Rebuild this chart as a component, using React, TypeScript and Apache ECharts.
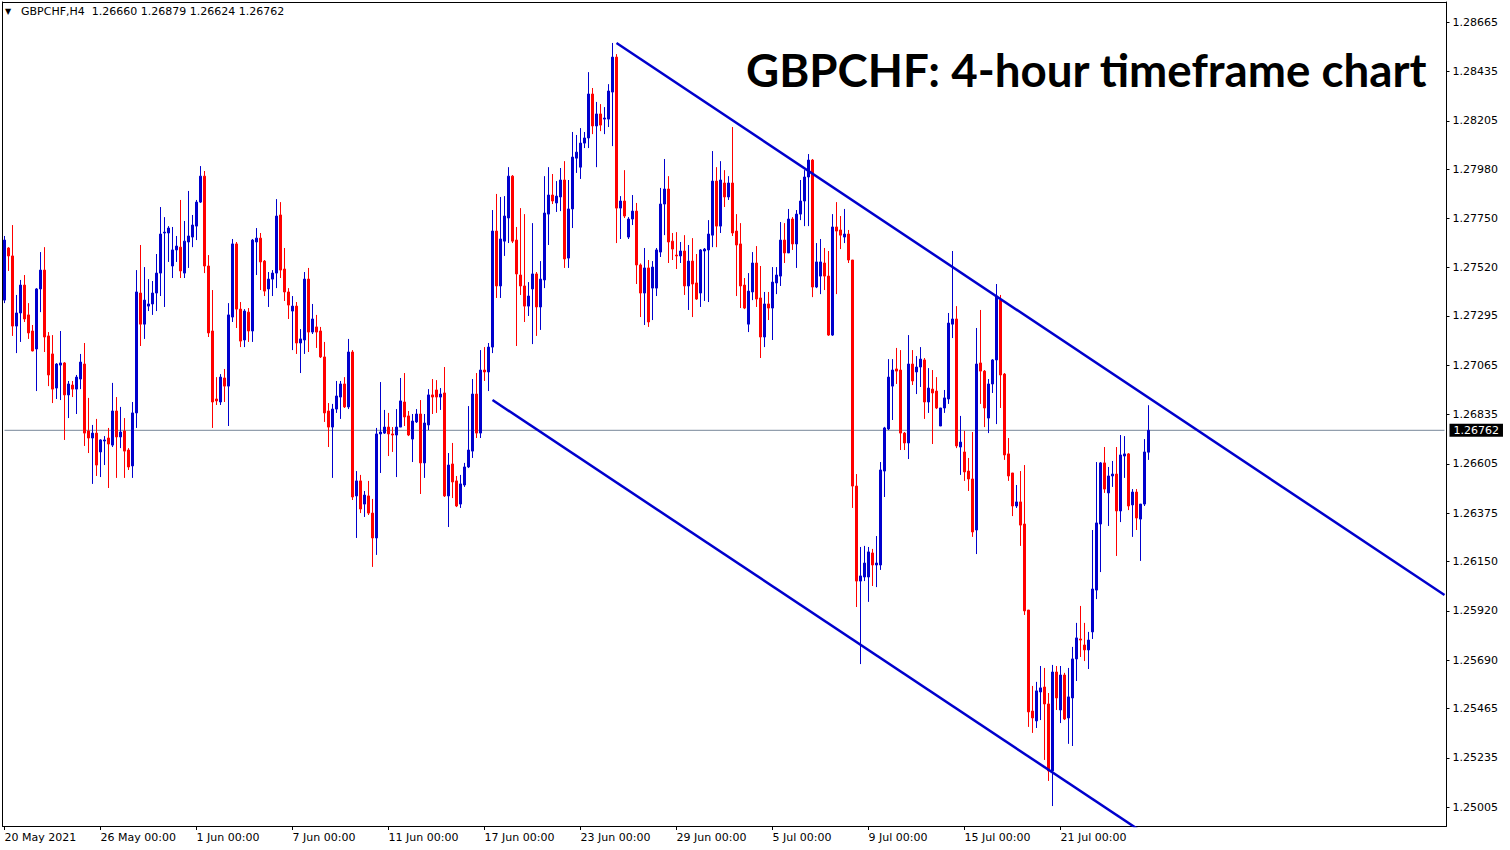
import React, { useEffect, useRef } from "react";
import * as echarts from "echarts";

const symbolName = "GBPCHF";
const timeframe = "H4";
const titleText = "GBPCHF: 4-hour timeframe chart";

// each candle: [open, close, low, high]
const candles: number[][] = [
  [1.27369, 1.27649, 1.27355, 1.27668], [1.27612, 1.27575, 1.27505, 1.27616], [1.27575, 1.27248, 1.27202, 1.27719], [1.27248, 1.27309, 1.27122, 1.27393],
  [1.27309, 1.27439, 1.27174, 1.27463], [1.27439, 1.27281, 1.27267, 1.27486], [1.27300, 1.27216, 1.27188, 1.27355], [1.27225, 1.27132, 1.27130, 1.27253],
  [1.27141, 1.27421, 1.26945, 1.27425], [1.27421, 1.27509, 1.27313, 1.27593], [1.27509, 1.27197, 1.27127, 1.27616], [1.27202, 1.27020, 1.26968, 1.27220],
  [1.27118, 1.26954, 1.26889, 1.27206], [1.26959, 1.27071, 1.26908, 1.27075], [1.27066, 1.27076, 1.26903, 1.27225], [1.27076, 1.26927, 1.26717, 1.27080],
  [1.26927, 1.26978, 1.26819, 1.26992], [1.26973, 1.26954, 1.26917, 1.26992], [1.26954, 1.27010, 1.26838, 1.27020], [1.27001, 1.27080, 1.26954, 1.27118],
  [1.27071, 1.26749, 1.26689, 1.27169], [1.26759, 1.26726, 1.26656, 1.26913], [1.26726, 1.26749, 1.26512, 1.26787], [1.26749, 1.26600, 1.26549, 1.26815],
  [1.26661, 1.26717, 1.26544, 1.26720], [1.26712, 1.26717, 1.26600, 1.26735], [1.26726, 1.26698, 1.26493, 1.26773], [1.26693, 1.26852, 1.26684, 1.26983],
  [1.26852, 1.26731, 1.26540, 1.26917], [1.26731, 1.26754, 1.26679, 1.26871], [1.26759, 1.26665, 1.26540, 1.26819], [1.26670, 1.26591, 1.26577, 1.26679],
  [1.26596, 1.26843, 1.26540, 1.26894], [1.26843, 1.27407, 1.26773, 1.27509], [1.27402, 1.27257, 1.27155, 1.27626], [1.27257, 1.27369, 1.27188, 1.27523],
  [1.27341, 1.27351, 1.27318, 1.27467], [1.27351, 1.27402, 1.27300, 1.27458], [1.27402, 1.27495, 1.27318, 1.27584], [1.27495, 1.27677, 1.27388, 1.27803],
  [1.27682, 1.27686, 1.27337, 1.27756], [1.27682, 1.27705, 1.27547, 1.27714], [1.27528, 1.27603, 1.27472, 1.27710], [1.27603, 1.27621, 1.27547, 1.27668],
  [1.27616, 1.27505, 1.27472, 1.27836], [1.27495, 1.27644, 1.27472, 1.27738], [1.27640, 1.27668, 1.27519, 1.27878], [1.27663, 1.27719, 1.27616, 1.27766],
  [1.27714, 1.27826, 1.27649, 1.27836], [1.27826, 1.27947, 1.27822, 1.27994], [1.27947, 1.27528, 1.27495, 1.27971], [1.27528, 1.27216, 1.27197, 1.27579],
  [1.27225, 1.26894, 1.26773, 1.27416], [1.26908, 1.26899, 1.26880, 1.27010], [1.26894, 1.27010, 1.26880, 1.27024], [1.27006, 1.26968, 1.26894, 1.27048],
  [1.26968, 1.27300, 1.26782, 1.27355], [1.27290, 1.27631, 1.27267, 1.27654], [1.27631, 1.27327, 1.27239, 1.27640], [1.27327, 1.27178, 1.27150, 1.27360],
  [1.27183, 1.27318, 1.27150, 1.27327], [1.27313, 1.27225, 1.27174, 1.27332], [1.27225, 1.27649, 1.27174, 1.27654], [1.27640, 1.27658, 1.27486, 1.27705],
  [1.27658, 1.27547, 1.27416, 1.27682], [1.27551, 1.27411, 1.27388, 1.27556], [1.27421, 1.27467, 1.27337, 1.27500], [1.27467, 1.27495, 1.27388, 1.27509],
  [1.27495, 1.27761, 1.27425, 1.27840], [1.27766, 1.27509, 1.27472, 1.27826], [1.27514, 1.27407, 1.27365, 1.27612], [1.27407, 1.27346, 1.27281, 1.27425],
  [1.27318, 1.27341, 1.27136, 1.27388], [1.27341, 1.27169, 1.27118, 1.27360], [1.27169, 1.27188, 1.27029, 1.27234], [1.27183, 1.27467, 1.27118, 1.27500],
  [1.27467, 1.27220, 1.27127, 1.27519], [1.27220, 1.27281, 1.27211, 1.27351], [1.27244, 1.27220, 1.27146, 1.27300], [1.27225, 1.27104, 1.27099, 1.27244],
  [1.27104, 1.26843, 1.26801, 1.27174], [1.26852, 1.26777, 1.26684, 1.26889], [1.26777, 1.26861, 1.26540, 1.26885], [1.26861, 1.26922, 1.26843, 1.26992],
  [1.26917, 1.26978, 1.26815, 1.26992], [1.26978, 1.26871, 1.26866, 1.27010], [1.26871, 1.27127, 1.26861, 1.27188], [1.27127, 1.26451, 1.26437, 1.27136],
  [1.26456, 1.26526, 1.26260, 1.26572], [1.26526, 1.26395, 1.26376, 1.26554], [1.26418, 1.26460, 1.26358, 1.26479], [1.26456, 1.26376, 1.26367, 1.26526],
  [1.26376, 1.26260, 1.26125, 1.26442], [1.26260, 1.26745, 1.26181, 1.26773], [1.26745, 1.26754, 1.26563, 1.26987], [1.26749, 1.26777, 1.26745, 1.26857],
  [1.26777, 1.26745, 1.26642, 1.26843], [1.26745, 1.26740, 1.26661, 1.26777], [1.26740, 1.26777, 1.26544, 1.26861], [1.26777, 1.26899, 1.26777, 1.27006],
  [1.26894, 1.26824, 1.26782, 1.27029], [1.26829, 1.26740, 1.26735, 1.26852], [1.26721, 1.26805, 1.26614, 1.26838], [1.26801, 1.26838, 1.26796, 1.26861],
  [1.26838, 1.26610, 1.26465, 1.26903], [1.26610, 1.26796, 1.26540, 1.26838], [1.26787, 1.26927, 1.26763, 1.26954], [1.26927, 1.26917, 1.26838, 1.27001],
  [1.26950, 1.26917, 1.26843, 1.26996], [1.26917, 1.26931, 1.26857, 1.26959], [1.26936, 1.26456, 1.26451, 1.27057], [1.26456, 1.26600, 1.26311, 1.26656],
  [1.26605, 1.26521, 1.26446, 1.26703], [1.26526, 1.26409, 1.26404, 1.26549], [1.26418, 1.26512, 1.26400, 1.26554], [1.26507, 1.26591, 1.26498, 1.26610],
  [1.26591, 1.26670, 1.26586, 1.26875], [1.26665, 1.26931, 1.26633, 1.27001], [1.26931, 1.26749, 1.26726, 1.27029], [1.26749, 1.27043, 1.26726, 1.27136],
  [1.27043, 1.27034, 1.26992, 1.27150], [1.27034, 1.27150, 1.26945, 1.27169], [1.27150, 1.27691, 1.27122, 1.27789], [1.27691, 1.27435, 1.27379, 1.27864],
  [1.27435, 1.27654, 1.27379, 1.27850], [1.27644, 1.27761, 1.27575, 1.27854], [1.27752, 1.27947, 1.27635, 1.27989], [1.27947, 1.27644, 1.27635, 1.27952],
  [1.27649, 1.27491, 1.27155, 1.27710], [1.27486, 1.27435, 1.27393, 1.27798], [1.27435, 1.27341, 1.27267, 1.27770], [1.27341, 1.27388, 1.27295, 1.27453],
  [1.27421, 1.27491, 1.27164, 1.27728], [1.27491, 1.27337, 1.27202, 1.27500], [1.27337, 1.27467, 1.27230, 1.27551], [1.27463, 1.27775, 1.27425, 1.27947],
  [1.27770, 1.27859, 1.27626, 1.27989], [1.27859, 1.27831, 1.27817, 1.27957], [1.27822, 1.27854, 1.27780, 1.27924], [1.27850, 1.27929, 1.27784, 1.27985],
  [1.27929, 1.27561, 1.27519, 1.28017], [1.27565, 1.27794, 1.27519, 1.27929], [1.27794, 1.28036, 1.27705, 1.28153], [1.28031, 1.28059, 1.27962, 1.28139],
  [1.27989, 1.28101, 1.27934, 1.28171], [1.28101, 1.28125, 1.28078, 1.28153], [1.28125, 1.28330, 1.28078, 1.28432], [1.28330, 1.28181, 1.28143, 1.28358],
  [1.28181, 1.28237, 1.27989, 1.28293], [1.28237, 1.28185, 1.28157, 1.28283], [1.28213, 1.28218, 1.28143, 1.28269], [1.28213, 1.28344, 1.28176, 1.28376],
  [1.28339, 1.28502, 1.28087, 1.28568], [1.28502, 1.27798, 1.27635, 1.28516], [1.27798, 1.27831, 1.27654, 1.27854], [1.27831, 1.27761, 1.27752, 1.27975],
  [1.27663, 1.27747, 1.27654, 1.27756], [1.27747, 1.27784, 1.27719, 1.27859], [1.27784, 1.27533, 1.27444, 1.27822], [1.27533, 1.27402, 1.27290, 1.27540],
  [1.27402, 1.27519, 1.27253, 1.27612], [1.27519, 1.27267, 1.27244, 1.27556], [1.27425, 1.27523, 1.27276, 1.27551], [1.27425, 1.27603, 1.27388, 1.27612],
  [1.27593, 1.27817, 1.27570, 1.27892], [1.27817, 1.27887, 1.27672, 1.28027], [1.27887, 1.27640, 1.27542, 1.27947], [1.27644, 1.27607, 1.27556, 1.27682],
  [1.27579, 1.27575, 1.27514, 1.27686], [1.27575, 1.27598, 1.27542, 1.27640], [1.27598, 1.27435, 1.27393, 1.27672], [1.27435, 1.27551, 1.27323, 1.27626],
  [1.27551, 1.27444, 1.27290, 1.27658], [1.27449, 1.27374, 1.27370, 1.27584], [1.27402, 1.27603, 1.27337, 1.27607], [1.27598, 1.27607, 1.27365, 1.27612],
  [1.27603, 1.27677, 1.27360, 1.27742], [1.27672, 1.27924, 1.27616, 1.28064], [1.27924, 1.27714, 1.27616, 1.27989], [1.27714, 1.27929, 1.27682, 1.28017],
  [1.27915, 1.27850, 1.27803, 1.27975], [1.27850, 1.27915, 1.27836, 1.27947], [1.27915, 1.27682, 1.27668, 1.28176], [1.27691, 1.27626, 1.27388, 1.27770],
  [1.27631, 1.27435, 1.27332, 1.27728], [1.27439, 1.27332, 1.27327, 1.27472], [1.27257, 1.27411, 1.27220, 1.27495], [1.27407, 1.27542, 1.27369, 1.27593],
  [1.27542, 1.27374, 1.27337, 1.27621], [1.27379, 1.27197, 1.27099, 1.27528], [1.27197, 1.27351, 1.27150, 1.27407], [1.27351, 1.27332, 1.27276, 1.27407],
  [1.27332, 1.27453, 1.27183, 1.27523], [1.27449, 1.27486, 1.27397, 1.27523], [1.27481, 1.27649, 1.27435, 1.27733], [1.27649, 1.27589, 1.27542, 1.27728],
  [1.27589, 1.27747, 1.27589, 1.27794], [1.27747, 1.27631, 1.27603, 1.27756], [1.27631, 1.27770, 1.27519, 1.27789], [1.27770, 1.27831, 1.27742, 1.27929],
  [1.27831, 1.27943, 1.27714, 1.27975], [1.27943, 1.28022, 1.27714, 1.28050], [1.28022, 1.27430, 1.27383, 1.28027], [1.27430, 1.27547, 1.27425, 1.27635],
  [1.27481, 1.27547, 1.27397, 1.27654], [1.27542, 1.27481, 1.27416, 1.27612], [1.27481, 1.27206, 1.27202, 1.27598], [1.27206, 1.27710, 1.27202, 1.27770],
  [1.27710, 1.27691, 1.27397, 1.27826], [1.27696, 1.27672, 1.27607, 1.27761], [1.27663, 1.27677, 1.27635, 1.27794], [1.27677, 1.27556, 1.27542, 1.27696],
  [1.27556, 1.26502, 1.26400, 1.27556], [1.26502, 1.26059, 1.25938, 1.26558], [1.26059, 1.26083, 1.25672, 1.26218], [1.26078, 1.26143, 1.26059, 1.26223],
  [1.26078, 1.26195, 1.25962, 1.26218], [1.26190, 1.26134, 1.26036, 1.26209], [1.26134, 1.26143, 1.26031, 1.26269], [1.26134, 1.26577, 1.26111, 1.26614],
  [1.26572, 1.26773, 1.26451, 1.26778], [1.26768, 1.27010, 1.26763, 1.27094], [1.26968, 1.27043, 1.26810, 1.27094], [1.27048, 1.27038, 1.26978, 1.27146],
  [1.27043, 1.26749, 1.26670, 1.27136], [1.26749, 1.26703, 1.26670, 1.26754], [1.26703, 1.27071, 1.26628, 1.27206], [1.27071, 1.26992, 1.26973, 1.27136],
  [1.27034, 1.27057, 1.26931, 1.27108], [1.27057, 1.27094, 1.26964, 1.27150], [1.27090, 1.26894, 1.26815, 1.27099], [1.26894, 1.26959, 1.26843, 1.27052],
  [1.26954, 1.26936, 1.26698, 1.27043], [1.26945, 1.26866, 1.26861, 1.27010], [1.26782, 1.26866, 1.26782, 1.26866], [1.26866, 1.26913, 1.26843, 1.26950],
  [1.26908, 1.27262, 1.26885, 1.27309], [1.27257, 1.27281, 1.27192, 1.27598], [1.27281, 1.26689, 1.26679, 1.27341], [1.26684, 1.26707, 1.26554, 1.26829],
  [1.26661, 1.26568, 1.26526, 1.26759], [1.26572, 1.26535, 1.26479, 1.26633], [1.26535, 1.26288, 1.26265, 1.26754], [1.26297, 1.27071, 1.26185, 1.27239],
  [1.27076, 1.27038, 1.26885, 1.27323], [1.27038, 1.26866, 1.26777, 1.27043], [1.26819, 1.26978, 1.26749, 1.27001], [1.26978, 1.27090, 1.26936, 1.27094],
  [1.27090, 1.27388, 1.26791, 1.27444], [1.27369, 1.27020, 1.26866, 1.27393], [1.27024, 1.26647, 1.26624, 1.27029], [1.26652, 1.26549, 1.26526, 1.26726],
  [1.26563, 1.26409, 1.26362, 1.26563], [1.26409, 1.26428, 1.26400, 1.26507], [1.26428, 1.26320, 1.26223, 1.26572], [1.26325, 1.25920, 1.25901, 1.26600],
  [1.25924, 1.25449, 1.25379, 1.25924], [1.25453, 1.25421, 1.25351, 1.25570], [1.25407, 1.25547, 1.25374, 1.25589], [1.25542, 1.25561, 1.25411, 1.25663],
  [1.25565, 1.25486, 1.25225, 1.25654], [1.25486, 1.25174, 1.25127, 1.25537], [1.25174, 1.25635, 1.25010, 1.25668], [1.25635, 1.25514, 1.25458, 1.25663],
  [1.25458, 1.25621, 1.25397, 1.25663], [1.25621, 1.25416, 1.25411, 1.25631], [1.25421, 1.25519, 1.25300, 1.25654], [1.25514, 1.25696, 1.25290, 1.25752],
  [1.25696, 1.25794, 1.25593, 1.25864], [1.25789, 1.25784, 1.25705, 1.25943], [1.25761, 1.25738, 1.25686, 1.25864], [1.25738, 1.25784, 1.25649, 1.25822],
  [1.25822, 1.26022, 1.25789, 1.26297], [1.26017, 1.26330, 1.25975, 1.26614], [1.26325, 1.26610, 1.26101, 1.26614], [1.26610, 1.26488, 1.26470, 1.26684],
  [1.26470, 1.26549, 1.26316, 1.26591], [1.26549, 1.26558, 1.26498, 1.26619], [1.26558, 1.26386, 1.26176, 1.26684], [1.26386, 1.26647, 1.26334, 1.26740],
  [1.26642, 1.26652, 1.26540, 1.26735], [1.26652, 1.26409, 1.26390, 1.26656], [1.26414, 1.26474, 1.26265, 1.26488], [1.26474, 1.26353, 1.26297, 1.26488],
  [1.26348, 1.26418, 1.26153, 1.26418], [1.26418, 1.26661, 1.26409, 1.26721], [1.26660, 1.26762, 1.26624, 1.26879],
];

const yTickValues = [1.28665, 1.28435, 1.28205, 1.2798, 1.2775, 1.2752, 1.27295, 1.27065, 1.26835, 1.26605, 1.26375, 1.2615, 1.2592, 1.2569, 1.25465, 1.25235, 1.25005];
const xTickLabels = ["20 May 2021", "26 May 00:00", "1 Jun 00:00", "7 Jun 00:00", "11 Jun 00:00", "17 Jun 00:00", "23 Jun 00:00", "29 Jun 00:00", "5 Jul 00:00", "9 Jul 00:00", "15 Jul 00:00", "21 Jul 00:00"];
const barsPerTick = 24;
const totalSlots = 361;
const yMin = 1.24917;
const yMax = 1.28759;
const lastPrice = 1.26762;
const upperChannel = [[153, 1.28568], [360, 1.25994]];
const lowerChannel = [[122, 1.26903], [284, 1.24894]];

const months = ["Jan", "Feb", "Mar", "Apr", "May", "Jun", "Jul", "Aug", "Sep", "Oct", "Nov", "Dec"];
function buildCategories(): string[] {
  const out: string[] = [];
  let t = Date.UTC(2021, 4, 20);
  while (out.length < totalSlots) {
    const d = new Date(t);
    const wd = d.getUTCDay();
    if (wd !== 0 && wd !== 6) {
      for (let h = 0; h < 24 && out.length < totalSlots; h += 4) {
        out.push(`${d.getUTCDate()} ${months[d.getUTCMonth()]} ${String(h).padStart(2, "0")}:00`);
      }
    }
    t += 86400000;
  }
  return out;
}

const FONT = "DejaVu Sans";
const BLUE = "#0000CD";
const RED = "#FF0000";

export default function App() {
  const ref = useRef<HTMLDivElement>(null);
  useEffect(() => {
    if (!ref.current) return;
    const chart = echarts.init(ref.current, undefined, { renderer: "svg" });
    const categories = buildCategories();
    const last = candles[candles.length - 1];
    const header = `${symbolName},${timeframe}  ${last[0].toFixed(5)} ${last[3].toFixed(5)} ${last[2].toFixed(5)} ${last[1].toFixed(5)}`;
    const showTick = (index: number) => index % barsPerTick === 0 && index / barsPerTick < xTickLabels.length;
    const frameLine = { show: true, lineStyle: { color: "#000", width: 1 } };
    chart.setOption({
      animation: false,
      backgroundColor: "#ffffff",
      grid: { left: 2.5, top: 2, width: 1444, height: 824, show: false },
      xAxis: [
        {
          type: "category",
          data: categories,
          boundaryGap: true,
          position: "bottom",
          axisLine: frameLine,
          axisTick: { show: true, alignWithLabel: true, interval: (i: number) => showTick(i), length: 4, lineStyle: { color: "#000" } },
          axisLabel: {
            show: true,
            interval: (i: number) => showTick(i),
            formatter: (_v: string, i: number) => (showTick(i) ? xTickLabels[i / barsPerTick] : ""),
            align: "left",
            margin: 6,
            fontFamily: FONT,
            fontSize: 11,
            color: "#000",
          },
          splitLine: { show: false },
        },
        {
          type: "category",
          data: categories,
          boundaryGap: true,
          position: "top",
          axisLine: frameLine,
          axisTick: { show: false },
          axisLabel: { show: false },
          splitLine: { show: false },
        },
      ],
      yAxis: [
        {
          type: "value",
          position: "right",
          min: yMin,
          max: yMax,
          scale: true,
          axisLine: frameLine,
          axisTick: { show: true, length: 3, customValues: yTickValues, lineStyle: { color: "#000" } },
          axisLabel: {
            show: true,
            customValues: yTickValues,
            formatter: (v: number) => v.toFixed(5),
            margin: 6,
            fontFamily: FONT,
            fontSize: 11,
            color: "#000",
          },
          splitLine: { show: false },
        },
        {
          type: "value",
          position: "left",
          min: yMin,
          max: yMax,
          scale: true,
          axisLine: frameLine,
          axisTick: { show: false },
          axisLabel: { show: false },
          splitLine: { show: false },
        },
      ],
      graphic: [
        { type: "text", left: 5, top: 7, style: { text: "▼", fontFamily: FONT, fontSize: 8, fill: "#000" } },
        { type: "text", left: 21, top: 6, style: { text: header, fontFamily: FONT, fontSize: 11, fill: "#000" } },
        { type: "text", left: 746, top: 46, style: { text: titleText, fontFamily: "Lato", fontWeight: "bold", fontSize: 45.7, fill: "#000" } },
      ],
      series: [
        {
          type: "line",
          data: [[0, lastPrice], [totalSlots - 1, lastPrice]],
          symbol: "none",
          silent: true,
          lineStyle: { color: "#778899", width: 1 },
          endLabel: {
            show: true,
            formatter: () => lastPrice.toFixed(5),
            backgroundColor: "#000",
            color: "#fff",
            fontFamily: FONT,
            fontSize: 11,
            padding: [1, 4, 1, 4],
            distance: 5,
          },
          z: 2,
        },
        {
          type: "candlestick",
          data: candles,
          barWidth: 2,
          itemStyle: { color: BLUE, color0: RED, borderColor: BLUE, borderColor0: RED, borderWidth: 1 },
          z: 3,
        },
        {
          type: "line",
          data: upperChannel,
          symbol: "none",
          silent: true,
          lineStyle: { color: BLUE, width: 2.5 },
          clip: true,
          z: 4,
        },
        {
          type: "line",
          data: lowerChannel,
          symbol: "none",
          silent: true,
          lineStyle: { color: BLUE, width: 2.5 },
          clip: true,
          z: 4,
        },
      ],
    });
    return () => chart.dispose();
  }, []);
  return <div ref={ref} style={{ position: "fixed", left: 0, top: 0, width: 1510, height: 850, background: "#fff" }} />;
}
